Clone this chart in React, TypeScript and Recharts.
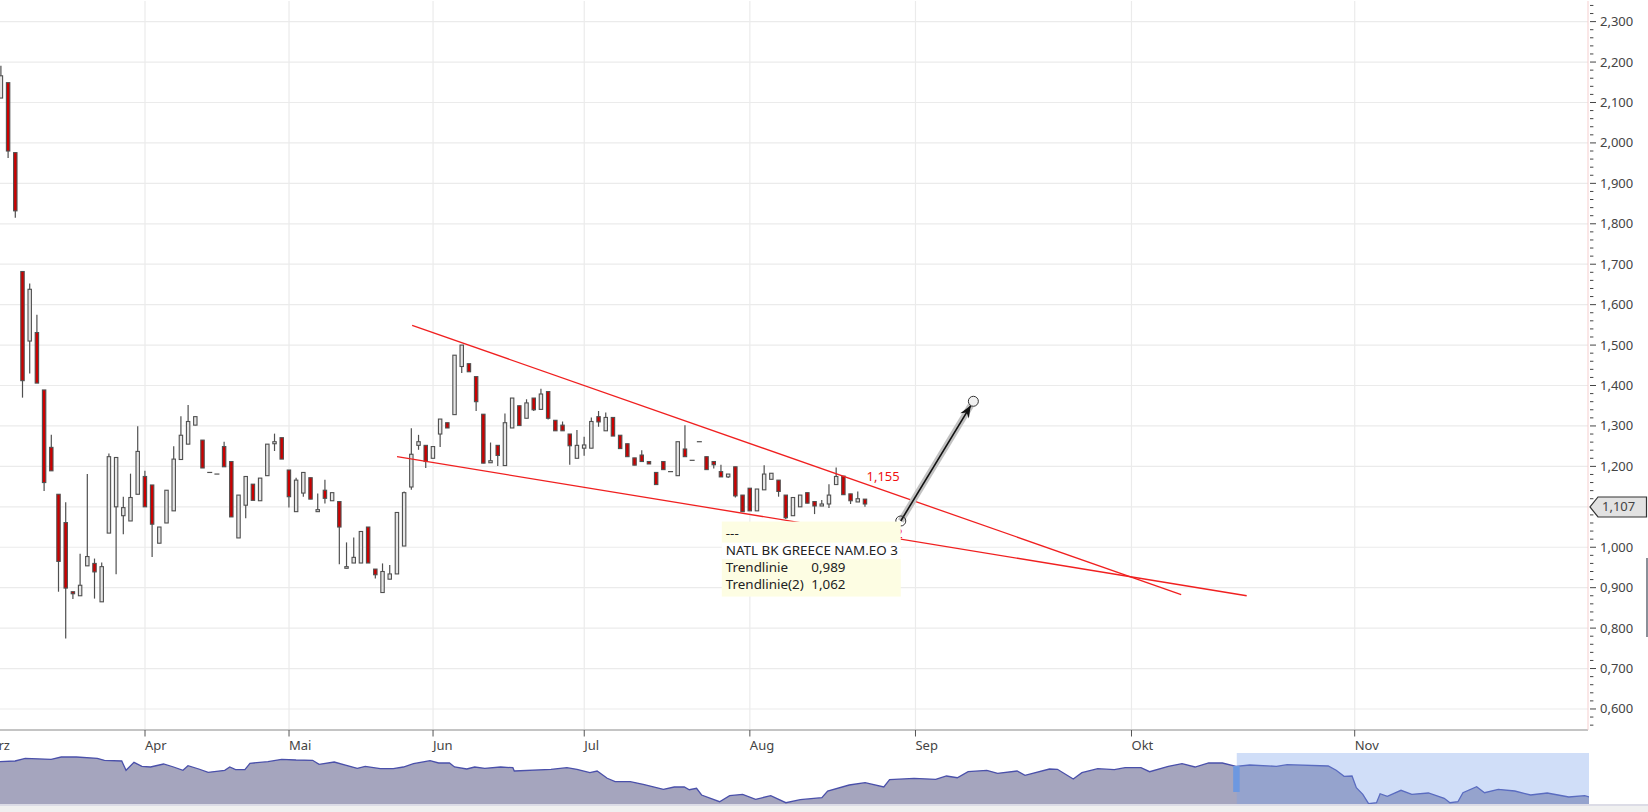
import React from "react";
import {
  ComposedChart, AreaChart, Area, Bar, XAxis, YAxis, CartesianGrid,
  ReferenceLine, ReferenceDot, ReferenceArea,
} from "recharts";

const FONT = '"Noto Sans", sans-serif';

const opens = [
  2.111,2.149,1.976,1.682,1.510,1.531,1.389,1.247,1.131,1.061,
  0.890,0.880,0.954,0.960,0.865,1.035,1.100,1.078,1.065,1.131,
  1.175,1.154,1.010,1.060,1.090,1.217,1.255,1.302,1.265,1.185,
  1.181,1.249,1.212,1.023,1.104,1.156,1.115,1.177,1.256,1.271,
  1.191,1.088,1.134,1.172,1.088,1.141,1.115,1.113,0.948,0.961,
  0.961,1.050,0.946,0.888,0.921,0.934,1.003,1.149,1.252,1.252,
  1.220,1.280,1.308,1.328,1.447,1.454,1.422,1.329,1.209,1.252,
  1.202,1.295,1.350,1.319,1.369,1.341,1.385,1.314,1.302,1.280,
  1.220,1.245,1.245,1.323,1.288,1.321,1.277,1.256,1.221,1.228,
  1.212,1.185,1.212,1.187,1.177,1.243,1.215,1.261,1.224,1.212,
  1.187,1.174,1.199,1.129,1.146,1.090,1.142,1.168,1.166,1.129,
  1.078,1.100,1.135,1.113,1.102,1.107,1.155,1.176,1.132,1.112,
  1.119,
];
const highs = [
  2.191,2.149,1.976,1.682,1.652,1.575,1.389,1.278,1.131,1.111,
  0.890,0.984,1.181,0.972,0.962,1.232,1.222,1.125,1.182,1.299,
  1.189,1.154,1.050,1.141,1.250,1.324,1.352,1.323,1.265,1.186,
  1.182,1.261,1.212,1.129,1.175,1.156,1.171,1.255,1.281,1.271,
  1.191,1.172,1.185,1.172,1.133,1.167,1.135,1.113,1.012,1.024,
  1.039,1.050,0.946,0.960,0.956,1.086,1.138,1.294,1.278,1.252,
  1.249,1.317,1.308,1.475,1.500,1.454,1.422,1.329,1.259,1.252,
  1.331,1.369,1.350,1.366,1.369,1.392,1.385,1.314,1.311,1.280,
  1.290,1.273,1.321,1.337,1.333,1.321,1.277,1.256,1.221,1.240,
  1.212,1.185,1.212,1.188,1.261,1.302,1.216,1.262,1.224,1.212,
  1.204,1.181,1.199,1.129,1.146,1.144,1.203,1.183,1.166,1.129,
  1.123,1.129,1.135,1.113,1.117,1.156,1.197,1.176,1.132,1.138,
  1.119,
];
const lows = [
  2.111,1.963,1.815,1.370,1.430,1.406,1.139,1.189,0.890,0.774,
  0.872,0.880,0.954,0.873,0.865,1.035,0.933,1.032,1.065,1.131,
  1.100,0.976,1.010,1.060,1.090,1.217,1.255,1.302,1.196,1.184,
  1.180,1.199,1.075,1.023,1.072,1.116,1.115,1.177,1.238,1.218,
  1.098,1.088,1.125,1.119,1.088,1.108,1.115,0.958,0.948,0.961,
  0.961,0.961,0.923,0.888,0.921,0.934,1.003,1.142,1.241,1.196,
  1.220,1.248,1.295,1.328,1.431,1.434,1.337,1.208,1.209,1.201,
  1.202,1.295,1.301,1.319,1.337,1.341,1.316,1.288,1.288,1.204,
  1.220,1.226,1.245,1.298,1.288,1.275,1.244,1.224,1.203,1.212,
  1.206,1.155,1.192,1.186,1.177,1.224,1.214,1.260,1.192,1.195,
  1.174,1.171,1.123,1.088,1.090,1.090,1.142,1.168,1.125,1.070,
  1.078,1.100,1.109,1.082,1.102,1.097,1.155,1.130,1.107,1.112,
  1.100,
];
const closes = [
  2.166,1.980,1.832,1.412,1.638,1.406,1.160,1.189,0.965,0.899,
  0.885,0.906,0.977,0.939,0.952,1.224,1.222,1.098,1.123,1.237,
  1.100,1.057,1.050,1.141,1.218,1.277,1.311,1.323,1.196,1.185,
  1.181,1.199,1.075,1.129,1.175,1.116,1.171,1.255,1.261,1.218,
  1.125,1.166,1.185,1.119,1.093,1.121,1.135,1.050,0.952,0.975,
  1.039,0.961,0.932,0.940,0.934,1.086,1.135,1.230,1.261,1.212,
  1.249,1.317,1.295,1.475,1.500,1.434,1.360,1.208,1.214,1.227,
  1.308,1.369,1.301,1.357,1.340,1.379,1.319,1.288,1.288,1.251,
  1.252,1.253,1.311,1.310,1.321,1.275,1.244,1.224,1.203,1.212,
  1.206,1.155,1.192,1.187,1.261,1.224,1.215,1.261,1.192,1.204,
  1.174,1.181,1.127,1.088,1.090,1.144,1.181,1.183,1.138,1.073,
  1.123,1.129,1.109,1.102,1.107,1.129,1.175,1.130,1.115,1.120,
  1.107,
];

const monthTicks = [-2, 20, 40, 60, 81, 104, 127, 157, 188];
const monthLabels = ["Mrz", "Apr", "Mai", "Jun", "Jul", "Aug", "Sep", "Okt", "Nov"];
const monthGrid = [20, 40, 60, 81, 104, 127, 157, 188];

const priceLabels = [
  0.6,0.7,0.8,0.9,1.0,1.1,1.2,1.3,1.4,1.5,1.6,1.7,1.8,1.9,2.0,2.1,2.2,2.3,
];
const minorSteps = Array.from({ length: 90 }, (_, k) => k + 28);
const priceTicks = minorSteps.map((k) => k * 0.02);

const upperTrend = [[57.1, 1.549], [163.9, 0.883]];
const lowerTrend = [[55.0, 1.224], [173.0, 0.880]];
const arrowLine = [[124.96, 1.065], [135.04, 1.361]];
const lastPrice = 1.107;

const tooltipRows = [
  ["---", ""],
  ["NATL BK GREECE NAM.EO 3", ""],
  ["Trendlinie", "0,989"],
  ["Trendlinie(2)", "1,062"],
];

const sparkSlots = [
  0,2.1,3.5,7.1,8.5,10.6,13.5,14.5,16.9,17.5,18.6,19.7,20.9,22.7,24.1,25.4,26.1,27.6,28.9,31.2,
  31.9,32.7,34,34.7,37.2,39.1,41.1,43.4,44.3,46.4,49.6,50.7,52.8,54.6,56,57.4,59.7,60.9,62.4,63.1,
  64.8,65.9,67.3,69.5,71.2,71.4,76.5,78.7,80.1,81.9,82.9,84.3,85.4,87.5,89.3,92.1,93.6,95,95.7,96.7,
  97.4,99.9,101.3,103.1,104.9,107,109.1,111.1,114.1,114.9,117.9,120.1,122.7,123.5,126.9,129.9,131.4,132.9,134.4,137,
  138.5,141.2,142.3,145.7,146.8,149,150.2,152.4,154.7,156.2,158.4,159.6,162.2,164.1,165.9,167.8,169.7,171.6,173.5,177.2,
  178.7,184.4,185.5,186.6,187.7,188.3,189.2,190,191.1,191.6,192.6,194.5,196,198.3,200.5,201.3,202.4,203.1,205,206.1,
  208,210.3,212.5,214.8,217.8,220,220.6,
];
const sparkValues = [
  42.3,43,45.7,44.7,47,47,45.7,43.7,43,33.7,41.7,37.7,37,40,37,33.7,38.3,35,31.7,33.7,
  37,34.3,34.3,40.7,42.3,44.7,44,43.7,39.7,42,35.7,37.7,35.3,35.3,37,40.3,43.3,41,41,37,
  35,37,35.7,37,36.3,33,34.7,36.3,34.7,31.3,33,25.7,22.3,22.3,19.7,14.7,17,17,14.3,15.7,
  9,2.3,8.3,9.7,4.7,8.3,1.3,4.3,6.3,13,19,21.3,17,24.3,25.7,24.7,28,26.3,32.3,33.7,
  30.7,33,28.7,35,34.7,25,31.3,35.3,34.3,36.3,36.3,32.3,37.7,40.3,37,41,41,37.7,39,37.7,
  39.3,38,33.7,27.7,28,16.3,9.7,0.3,1.3,10.3,7.7,13.7,9.7,11,5.7,1.3,2.3,11.3,17.3,11.3,
  14.7,13,9,11,7,8.3,7,
];

const candles = opens.map((open, i) => ({
  slot: i, open, high: highs[i], low: lows[i], close: closes[i],
}));
const sparkData = sparkSlots.map((slot, i) => ({ slot, value: sparkValues[i] }));

const RED = "#cc0000";
const WICK = "#505050";

function Candle(props: any) {
  const { x, y, width, height, payload } = props;
  const { open, high, low, close } = payload;
  const top = Math.min(y, y + height);
  const h = Math.abs(height);
  const perUnit = h / (high - low);
  const cx = x + width / 2;
  const yOf = (v: number) => top + (high - v) * perUnit;
  const bodyTop = yOf(Math.max(open, close));
  const bodyBot = yOf(Math.min(open, close));
  const isDash = open === close;
  return (
    <g>
      {!isDash && (
        <line x1={cx} x2={cx} y1={top} y2={top + h} stroke={WICK} strokeWidth={1.2} />
      )}
      {isDash ? (
        <line x1={cx - 2.5} x2={cx + 2.5} y1={bodyTop} y2={bodyTop} stroke={WICK} strokeWidth={1.2} />
      ) : (
        <rect
          x={cx - 1.7}
          y={bodyTop}
          width={3.4}
          height={Math.max(bodyBot - bodyTop, 1)}
          fill={close < open ? RED : "#e6e6e6"}
          stroke={WICK}
          strokeWidth={1.1}
        />
      )}
    </g>
  );
}

function PriceTick(props: any) {
  const { y, payload } = props;
  const k = Math.round(payload.value / 0.02);
  const major = k % 5 === 0;
  const hiddenByBadge = k === 55;
  const x0 = 1590;
  if (hiddenByBadge) return <g />;
  return (
    <g>
      <line x1={x0} x2={major ? x0 + 6 : x0 + 3.4} y1={y} y2={y} stroke="#444" strokeWidth={1} />
      {major && (
        <text x={1600} y={y + 1} dominantBaseline="middle" fontFamily={FONT} fontSize={13} fill="#444">
          {payload.value.toFixed(3).replace(".", ",")}
        </text>
      )}
    </g>
  );
}

function MonthTick(props: any) {
  const { x, payload } = props;
  const label = monthLabels[monthTicks.indexOf(payload.value)];
  return (
    <g>
      <line x1={x} x2={x} y1={729} y2={735.5} stroke="#555" strokeWidth={1} />
      <text x={x} y={749} fontFamily={FONT} fontSize={13} fill="#444">{label}</text>
    </g>
  );
}

function PriceBadge(props: any) {
  const y = props.cy + 3;
  return (
    <g>
      <path
        d={`M 1590 ${y} L 1598 ${y - 10} L 1646.5 ${y - 10} L 1646.5 ${y + 10} L 1598 ${y + 10} Z`}
        fill="#e2e2e2"
        stroke="#333"
        strokeWidth={1.2}
      />
      <text x={1602} y={y + 1} dominantBaseline="middle" fontFamily={FONT} fontSize={13} fill="#444">
        {lastPrice.toFixed(3).replace(".", ",")}
      </text>
    </g>
  );
}

function TooltipBox(props: any) {
  const { cx, cy } = props;
  const W = 179;
  const H = 75;
  return (
    <g fontFamily={FONT} fontSize={13.4} fill="#222">
      <rect x={cx} y={cy} width={W} height={H} fill="#fdfde3" />
      <rect x={cx} y={cy + 21} width={W} height={16.6} fill="#ffffff" />
      {tooltipRows.map((r, i) => (
        <g key={i}>
          <text x={cx + 4} y={cy + 12.5 + i * 17} dominantBaseline="middle">{r[0]}</text>
          {r[1] && <text x={cx + 89.5} y={cy + 12.5 + i * 17} dominantBaseline="middle">{r[1]}</text>}
        </g>
      ))}
    </g>
  );
}

function ArrowShape(props: any) {
  const { x1, y1, x2, y2 } = props;
  const dx = x2 - x1;
  const dy = y2 - y1;
  const len = Math.hypot(dx, dy);
  const ux = dx / len;
  const uy = dy / len;
  const tipX = x2 - ux * 5;
  const tipY = y2 - uy * 5;
  const px = -uy;
  const py = ux;
  const head = `M ${tipX} ${tipY} L ${tipX - ux * 12 + px * 5} ${tipY - uy * 12 + py * 5} L ${tipX - ux * 8} ${tipY - uy * 8} L ${tipX - ux * 12 - px * 5} ${tipY - uy * 12 - py * 5} Z`;
  return (
    <g>
      <line x1={x1} y1={y1} x2={tipX} y2={tipY} stroke="#c2c2c2" strokeWidth={6.5} />
      <line x1={x1} y1={y1} x2={tipX} y2={tipY} stroke="#111" strokeWidth={1.6} />
      <path d={head} fill="#111" />
      <circle cx={x1} cy={y1} r={5} fill="none" stroke="#333" strokeWidth={1} />
      <circle cx={x2} cy={y2} r={5} fill="rgba(235,235,235,0.7)" stroke="#333" strokeWidth={1} />
    </g>
  );
}

const RedText = (text: string, dy: number) => (props: any) => (
  <text x={props.cx} y={props.cy + dy} fontFamily={FONT} fontSize={13} fill="#f01010">{text}</text>
);

export default function App() {
  return (
    <div style={{ position: "absolute", left: 0, top: 0, width: 1648, height: 812, overflow: "hidden", background: "#fff" }}>
      <div style={{ position: "absolute", left: 0, top: 1 }}>
        <ComposedChart width={1648} height={752} data={candles} margin={{ top: 0, right: 0, bottom: 0, left: 0 }}>
          <CartesianGrid
            stroke="#ebebeb"
            strokeWidth={1.2}
            horizontalValues={priceLabels}
            verticalValues={monthGrid}
          />
          <XAxis
            dataKey="slot"
            type="number"
            scale="linear"
            domain={[-0.139, 220.4]}
            allowDataOverflow
            ticks={monthTicks}
            interval={0}
            height={23}
            tickLine={false}
            tick={<MonthTick />}
            axisLine={{ stroke: "#c4c4c4", strokeWidth: 2 }}
          />
          <YAxis
            orientation="right"
            type="number"
            width={60}
            domain={[0.548, 2.351]}
            allowDataOverflow
            ticks={priceTicks}
            interval={0}
            tickLine={false}
            tick={<PriceTick />}
            axisLine={{ stroke: "#f6cfcf", strokeWidth: 1 }}
          />
          <Bar
            dataKey={(d: any) => [d.low, d.high]}
            barSize={5}
            isAnimationActive={false}
            shape={<Candle />}
          />
          <ReferenceLine
            segment={upperTrend.map(([x, y]) => ({ x, y }))}
            stroke="#f02020"
            strokeWidth={1.3}
            ifOverflow="visible"
          />
          <ReferenceLine
            segment={lowerTrend.map(([x, y]) => ({ x, y }))}
            stroke="#f02020"
            strokeWidth={1.3}
            ifOverflow="visible"
          />
          <ReferenceDot x={120.2} y={1.155} ifOverflow="visible" shape={RedText("1,155", -4)} />
          <ReferenceDot x={120.6} y={1.062} ifOverflow="visible" shape={RedText("1,062", 16)} />
          <ReferenceDot x={100.1} y={1.0635} ifOverflow="visible" shape={<TooltipBox />} />
          <ReferenceLine
            segment={arrowLine.map(([x, y]) => ({ x, y }))}
            ifOverflow="visible"
            shape={<ArrowShape />}
          />
          <ReferenceDot x={220.3} y={lastPrice} ifOverflow="visible" shape={<PriceBadge />} />
        </ComposedChart>
      </div>
      <div style={{ position: "absolute", left: 0, top: 753 }}>
        <AreaChart width={1589} height={51} data={sparkData} margin={{ top: 0, right: 0, bottom: 0, left: 0 }}>
          <XAxis dataKey="slot" type="number" domain={[0, 220.6]} hide />
          <YAxis type="number" domain={[0, 51]} hide />
          <Area
            type="linear"
            dataKey="value"
            stroke="#4a50aa"
            strokeWidth={1.3}
            fill="#a5a5be"
            fillOpacity={1}
            isAnimationActive={false}
          />
          <ReferenceArea x1={171.7} x2={220.6} y1={0} y2={51} fill="#78a0eb" fillOpacity={0.35} stroke="none" />
          <ReferenceArea x1={171.2} x2={172.1} y1={12} y2={38} fill="#6d98e0" fillOpacity={1} stroke="none" />
        </AreaChart>
      </div>
      <div style={{ position: "absolute", left: 0, top: 804, width: 1648, height: 1.5, background: "#dcdce6" }} />
      <div style={{ position: "absolute", left: 0, top: 805.5, width: 1648, height: 7, background: "#f0f0f0" }} />
      <div style={{ position: "absolute", left: 1646, top: 558, width: 2, height: 79, background: "#8a8f98" }} />
    </div>
  );
}
